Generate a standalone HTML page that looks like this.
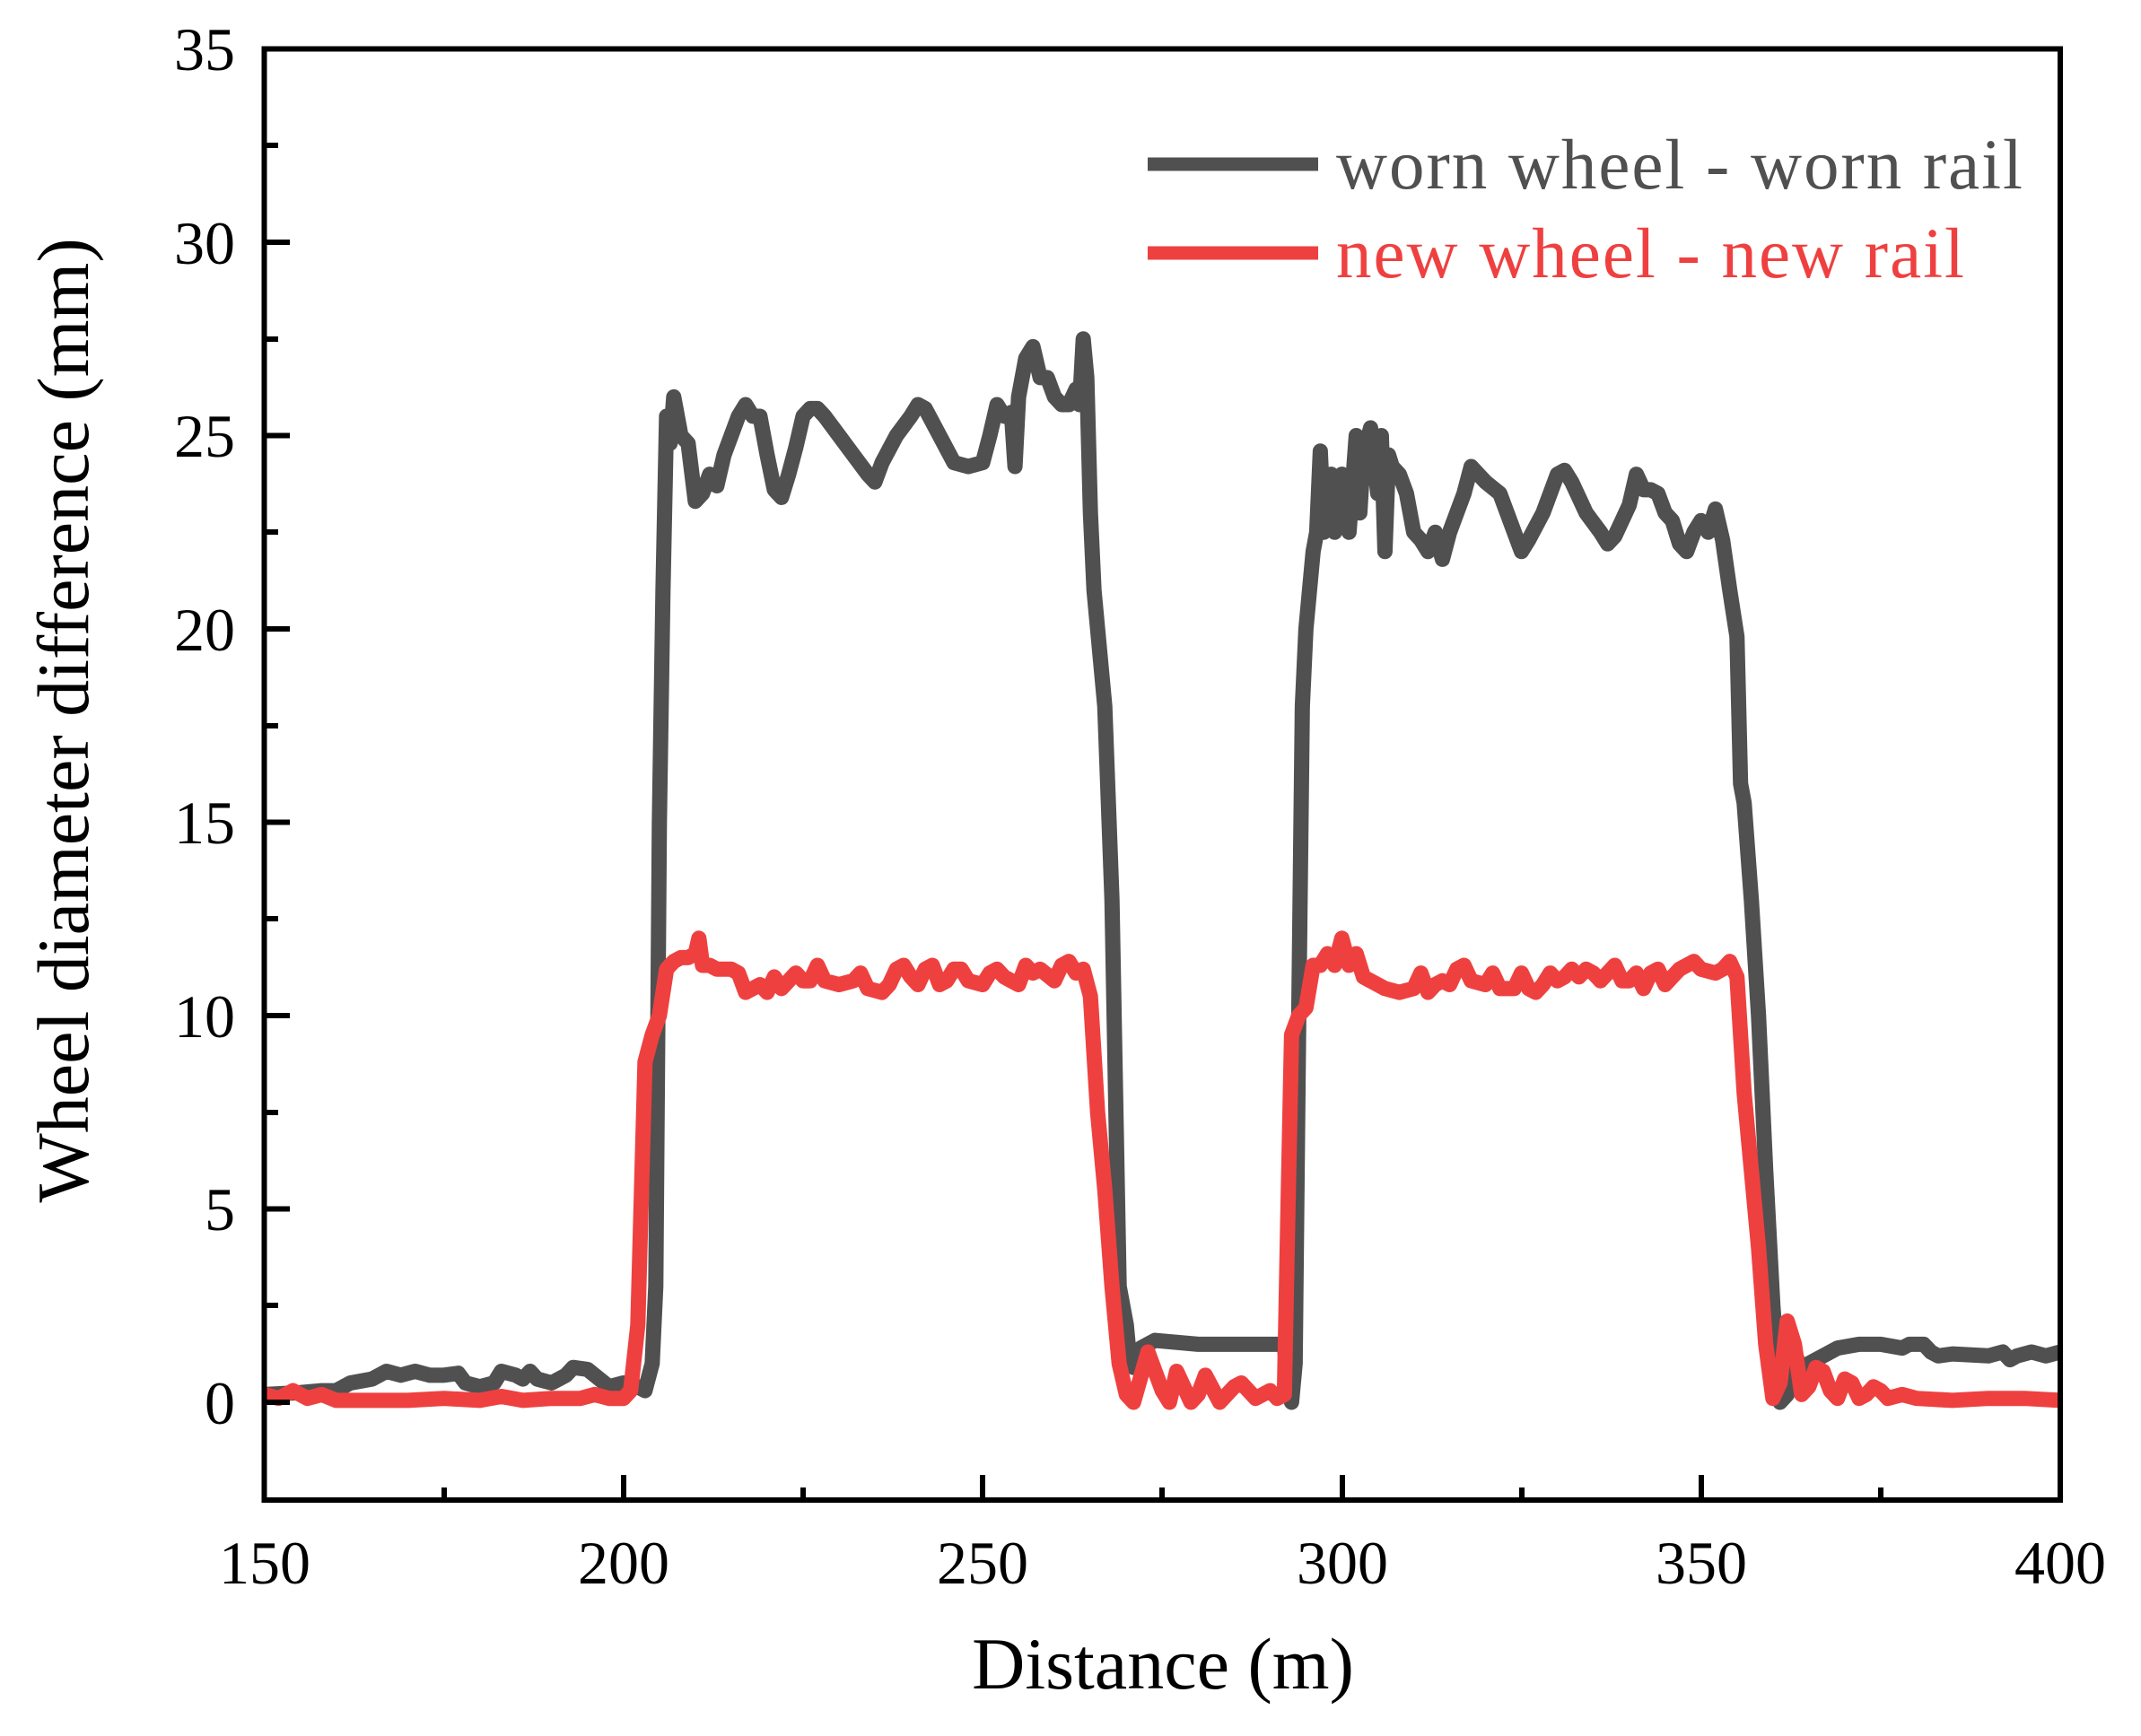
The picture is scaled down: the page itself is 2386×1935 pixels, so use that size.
<!DOCTYPE html>
<html><head><meta charset="utf-8"><style>
html,body{margin:0;padding:0;background:#fff}
svg{display:block}
text{font-family:"Liberation Serif",serif}
</style></head><body>
<svg width="2386" height="1935" viewBox="0 0 2386 1935" xmlns="http://www.w3.org/2000/svg">
<rect width="2386" height="1935" fill="#fff"/>
<defs><clipPath id="c"><rect x="295" y="55" width="2001" height="1617"/></clipPath></defs>
<g clip-path="url(#c)">
<g transform="translate(-906.4,1563) scale(8.006,-43.1)" fill="none" stroke-linejoin="round" stroke-linecap="round">
<polyline vector-effect="non-scaling-stroke" stroke="#505050" stroke-width="17" points="150,0.2 155,0.25 158,0.3 160,0.3 162,0.5 165,0.6 167,0.8 169,0.7 171,0.8 173,0.7 175,0.7 177,0.75 178,0.5 180,0.4 182,0.5 183,0.8 185,0.7 186,0.6 187,0.8 188,0.6 190,0.5 192,0.7 193,0.9 195,0.85 196,0.7 198,0.4 200,0.5 202,0.4 203,0.3 204,1 204.5,3 205,15 205.5,21 206,25.5 206.5,24.8 207,26 208,25 209,24.8 210,23.3 211,23.5 212,24.0 213,23.7 214,24.5 215,25 216,25.5 217,25.8 218,25.5 219,25.5 220,24.5 221,23.6 222,23.4 223,24 224,24.7 225,25.5 226,25.7 227,25.7 228,25.5 230,25 232,24.5 234,24 235,23.8 236,24.3 238,25 240,25.5 241,25.8 242,25.7 244,25 246,24.3 248,24.2 250,24.3 251,25 252,25.8 253,25.5 254,25.6 254.5,24.2 255,26 256,27 257,27.3 258,26.5 259,26.5 260,26 261,25.8 262,25.8 263,26.2 263.5,25.8 264,27.5 264.5,26.5 265,23 265.5,21 266,20 267,18 268,13 268.5,8 269,3 270,2 270.5,1 271,0.9 272,1.4 274,1.6 280,1.5 290,1.5 292,1.5 292.5,0.3 293,0 293.5,1 294,10 294.5,18 295,20 296,22 296.5,22.5 297,24.6 297.5,22.5 298,23 298.5,24 299,22.5 300,24 301,22.5 302,25 302.5,23 303,24.5 304,25.2 305,23.5 305.5,25 306,22 306.5,24.5 307,24.2 308,24 309,23.5 310,22.5 311,22.3 312,22 313,22.5 314,21.8 315,22.5 316,23 317,23.5 318,24.2 319,24 320,23.8 322,23.5 324,22.5 325,22 326,22.3 328,23 330,24 331,24.1 332,23.8 334,23 336,22.5 337,22.2 338,22.4 340,23.2 341,24 342,23.6 343,23.6 344,23.5 345,23 346,22.8 347,22.2 348,22 349,22.5 350,22.8 351,22.5 352,23.1 353,22.3 354,21 355,19.8 355.5,16 356,15.5 357,13 358,10 359,6 360,2.5 361,0 362,0.2 363,1.3 364,0.8 365,1 367,1.2 369,1.4 372,1.5 375,1.5 378,1.4 379,1.5 381,1.5 382,1.3 383,1.2 385,1.25 390,1.2 392,1.3 393,1.1 394,1.2 396,1.3 398,1.2 400,1.3"/>
<polyline vector-effect="non-scaling-stroke" stroke="#ef4040" stroke-width="17" points="150,0.2 152,0.1 154,0.3 156,0.1 158,0.2 160,0.05 165,0.05 170,0.05 175,0.1 180,0.05 183,0.15 186,0.05 190,0.1 194,0.1 196,0.2 198,0.1 200,0.1 201,0.3 202,2 203,8.8 204,9.5 205,10 206,11.2 207,11.4 208,11.5 209,11.5 210,11.6 210.5,12 211,11.3 212,11.3 213,11.2 215,11.2 216,11.1 217,10.6 218,10.7 219,10.8 220,10.6 221,11 222,10.7 223,10.9 224,11.1 225,10.9 226,10.9 227,11.3 228,10.9 230,10.8 232,10.9 233,11.1 234,10.7 236,10.6 237,10.8 238,11.2 239,11.3 240,11 241,10.8 242,11.2 243,11.3 244,10.8 245,10.9 246,11.2 247,11.2 248,10.9 250,10.8 251,11.1 252,11.2 253,11 254,10.9 255,10.8 256,11.3 257,11.1 258,11.2 260,10.9 261,11.3 262,11.4 263,11.1 264,11.2 265,10.5 266,7.5 267,5.5 268,3 269,1 270,0.2 271,0 273,1.3 275,0.3 276,0 277,0.8 279,0 280,0.2 281,0.7 283,0 285,0.4 286,0.5 288,0.1 290,0.3 291,0.1 292,0.2 292.5,5 293,9.5 294,10 295,10.2 296,11.3 297,11.3 298,11.6 299,11.3 300,12 301,11.3 302,11.6 303,11 304,10.9 306,10.7 308,10.6 310,10.7 311,11.1 312,10.6 313,10.8 314,10.9 315,10.8 316,11.2 317,11.3 318,10.9 320,10.8 321,11.1 322,10.7 324,10.7 325,11.1 326,10.7 327,10.6 328,10.8 329,11.1 330,10.9 331,11.0 332,11.2 333,11.0 334,11.2 335,11.1 336,10.9 337,11.1 338,11.3 339,10.9 340,10.9 341,11.1 342,10.7 343,11.1 344,11.2 345,10.8 346,11 347,11.2 348,11.3 349,11.4 350,11.2 352,11.1 353,11.2 354,11.4 355,11 356,8 357,6 358,4 359,1.5 360,0.1 361,0.5 362,2.1 363,1.5 364,0.2 365,0.4 366,0.9 367,0.8 368,0.3 369,0.1 370,0.6 371,0.5 372,0.1 373,0.2 374,0.4 375,0.3 376,0.1 378,0.2 380,0.1 385,0.05 390,0.1 395,0.1 400,0.05"/>
</g>
</g>
<rect x="294.5" y="54.5" width="2001.5" height="1617.5" fill="none" stroke="#000" stroke-width="6"/>
<g stroke="#000" stroke-width="6">
<line x1="295" y1="1563" x2="323" y2="1563"/><line x1="295" y1="1347.5" x2="323" y2="1347.5"/>
<line x1="295" y1="1132" x2="323" y2="1132"/><line x1="295" y1="916.5" x2="323" y2="916.5"/>
<line x1="295" y1="701" x2="323" y2="701"/><line x1="295" y1="485.5" x2="323" y2="485.5"/>
<line x1="295" y1="270" x2="323" y2="270"/>
<line x1="295" y1="1455" x2="310" y2="1455"/><line x1="295" y1="1240" x2="310" y2="1240"/>
<line x1="295" y1="1024" x2="310" y2="1024"/><line x1="295" y1="809" x2="310" y2="809"/>
<line x1="295" y1="593" x2="310" y2="593"/><line x1="295" y1="378" x2="310" y2="378"/>
<line x1="295" y1="162" x2="310" y2="162"/>
<line x1="695" y1="1672" x2="695" y2="1644"/><line x1="1095" y1="1672" x2="1095" y2="1644"/>
<line x1="1496" y1="1672" x2="1496" y2="1644"/><line x1="1896" y1="1672" x2="1896" y2="1644"/>
<line x1="495" y1="1672" x2="495" y2="1658"/><line x1="895" y1="1672" x2="895" y2="1658"/>
<line x1="1295" y1="1672" x2="1295" y2="1658"/><line x1="1696" y1="1672" x2="1696" y2="1658"/>
<line x1="2096" y1="1672" x2="2096" y2="1658"/>
</g>
<g font-size="68" text-anchor="end" fill="#000">
<text x="262" y="1587">0</text><text x="262" y="1371">5</text><text x="262" y="1156">10</text>
<text x="262" y="940">15</text><text x="262" y="725">20</text><text x="262" y="509">25</text>
<text x="262" y="294">30</text><text x="262" y="78">35</text>
</g>
<g font-size="68" text-anchor="middle" fill="#000">
<text x="295" y="1765">150</text><text x="695" y="1765">200</text><text x="1095" y="1765">250</text>
<text x="1496" y="1765">300</text><text x="1896" y="1765">350</text><text x="2296" y="1765">400</text>
</g>
<text x="1296" y="1882" font-size="82" text-anchor="middle">Distance (m)</text>
<text transform="translate(98,803) rotate(-90)" font-size="82" text-anchor="middle">Wheel diameter difference (mm)</text>
<line x1="1279" y1="183" x2="1469" y2="183" stroke="#505050" stroke-width="15"/>
<line x1="1279" y1="282" x2="1469" y2="282" stroke="#ef4040" stroke-width="15"/>
<text x="1489" y="210" font-size="79" fill="#505050" textLength="765">worn wheel - worn rail</text>
<text x="1489" y="309" font-size="79" fill="#ef4040" textLength="700">new wheel - new rail</text>
</svg>
</body></html>
